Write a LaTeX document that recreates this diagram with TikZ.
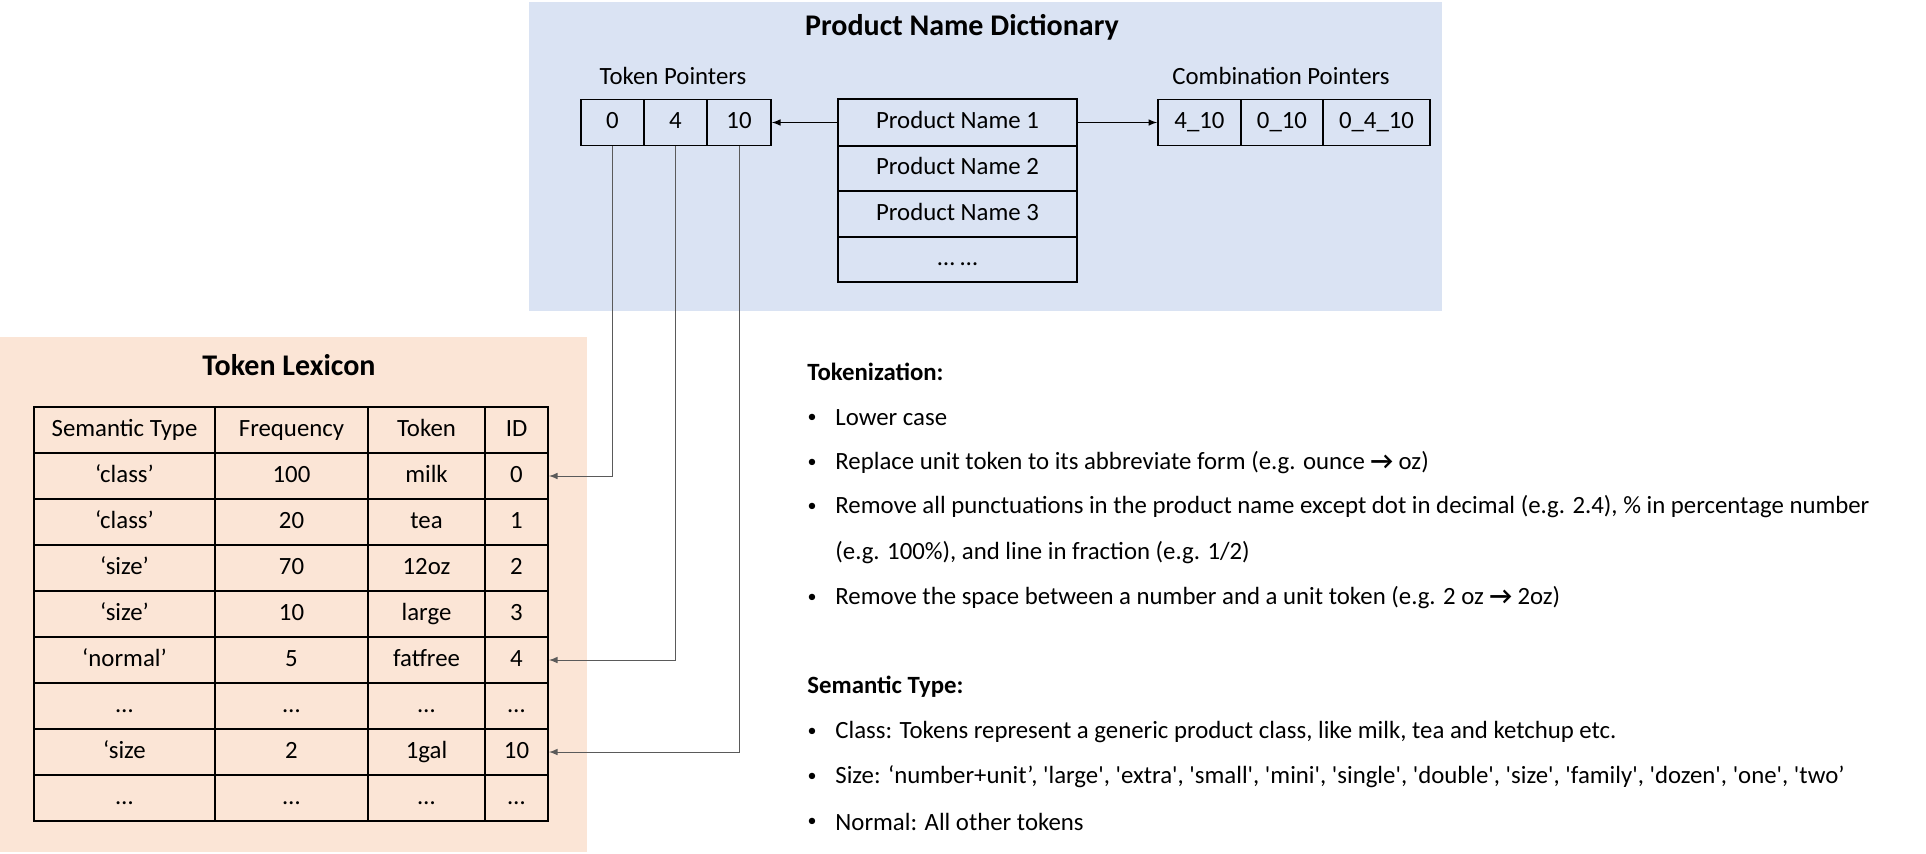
\documentclass[tikz,border=0pt]{standalone}
\usepackage{fontspec}
\setmainfont{Carlito}
\usepackage{tikz}
\usetikzlibrary{shapes,arrows,positioning,calc}
\definecolor{dictblue}{RGB}{218,227,243}
\definecolor{lexorange}{RGB}{251,229,214}
\definecolor{linkgray}{RGB}{90,90,90}

\begin{document}
\begin{tikzpicture}[x=0.5pt, y=-0.5pt,
    every node/.style={font=\fontsize{12.4pt}{15pt}\selectfont},
    cell/.style={draw, line width=0.9pt, inner sep=0pt, minimum height=23pt,
        text height=0.82em, text depth=0.18em},
    title/.style={font=\fontsize{15pt}{18pt}\selectfont\bfseries},
    bullet/.style={font=\fontsize{9pt}{9pt}\selectfont, inner sep=0pt},
    link/.style={-latex, linkgray, line width=0.5pt}]
    \useasboundingbox (0,0) rectangle (1926,853);

    % background panels
    \fill[dictblue] (529,2) rectangle (1442,311);
    \fill[lexorange] (0,337) rectangle (587,852);
    \node[title] (dicttitle) at (962,27) {Product Name Dictionary};
    \node[title] (lextitle) at (289,365) {Token Lexicon};

    % product name dictionary
    \node (tplabel) at (673,76) {Token Pointers};
    \node[cell, minimum width=31.5pt] (tp0) at (612.5,122.5) {0};
    \node[cell, minimum width=31.5pt] (tp4) at (675.5,122.5) {4};
    \node[cell, minimum width=32pt] (tp10) at (739,122.5) {10};

    \node[cell, minimum width=119.5pt, minimum height=23.5pt] (pn1) at (957.5,122.5) {Product Name 1};
    \node[cell, minimum width=119.5pt, minimum height=22.5pt] (pn2) at (957.5,168.5) {Product Name 2};
    \node[cell, minimum width=119.5pt, minimum height=22.5pt] (pn3) at (957.5,214) {Product Name 3};
    \node[cell, minimum width=119.5pt, minimum height=22.5pt] (pn4) at (957.5,259.5) {\dots\ \dots};

    \node (cplabel) at (1281,76) {Combination Pointers};
    \node[cell, minimum width=41.5pt] (cp1) at (1199.5,122.5) {4\_10};
    \node[cell, minimum width=41pt] (cp2) at (1282,122.5) {0\_10};
    \node[cell, minimum width=53.5pt] (cp3) at (1376.5,122.5) {0\_4\_10};

    \draw[link, black] (pn1.west) -- (tp10.east);
    \draw[link, black] (pn1.east) -- (cp1.west);

    % token lexicon table
    \foreach \r/\st/\fr/\tk/\id in {0/Semantic Type/Frequency/Token/ID,
        1/‘class’/100/milk/0, 2/‘class’/20/tea/1, 3/‘size’/70/12oz/2,
        4/‘size’/10/large/3, 5/‘normal’/5/fatfree/4, 6/…/…/…/…,
        7/‘size/2/1gal/10, 8/…/…/…/…} {
        \node[cell, minimum width=90.5pt] (st\r) at (124.5,430+46*\r) {\st};
        \node[cell, minimum width=76.5pt] (fr\r) at (291.5,430+46*\r) {\fr};
        \node[cell, minimum width=58.5pt] (tk\r) at (426.5,430+46*\r) {\tk};
        \node[cell, minimum width=31.5pt] (id\r) at (516.5,430+46*\r) {\id};
    }

    \draw[link] (tp0.south) |- (id1.east);
    \draw[link] (tp4.south) |- (id5.east);
    \draw[link] (tp10.south) |- (id7.east);

    % notes
    \node[anchor=west, inner sep=0pt, font=\fontsize{12.4pt}{15pt}\selectfont\bfseries] (tokhead) at (807,372) {Tokenization:};
    \foreach \n/\y/\txt in {1/418/Lower case,
        2/463/Replace unit token to its abbreviate form (e.g. ounce \textbf{→} oz),
        3/507/{Remove all punctuations in the product name except dot in decimal (e.g. 2.4), \% in percentage number},
        5/598/Remove the space between a number and a unit token (e.g. 2 oz \textbf{→} 2oz)} {
        \node[bullet] (tokdot\n) at (812,\y) {\textbullet};
        \node[anchor=west, inner sep=0pt] (tok\n) at (835,\y) {\txt};
    }
    \node[anchor=west, inner sep=0pt] (tok4) at (835,553) {(e.g. 100\%), and line in fraction (e.g. 1/2)};

    \node[anchor=west, inner sep=0pt, font=\fontsize{12.4pt}{15pt}\selectfont\bfseries] (semhead) at (807,687) {Semantic Type:};
    \foreach \n/\y/\txt in {1/732/{Class: Tokens represent a generic product class, like milk, tea and ketchup etc.},
        2/777/{Size: ‘number+unit’, \textquotesingle large\textquotesingle, \textquotesingle extra\textquotesingle, \textquotesingle small\textquotesingle, \textquotesingle mini\textquotesingle, \textquotesingle single\textquotesingle, \textquotesingle double\textquotesingle, \textquotesingle size\textquotesingle, \textquotesingle family\textquotesingle, \textquotesingle dozen\textquotesingle, \textquotesingle one\textquotesingle, \textquotesingle two’},
        3/822/Normal: All other tokens} {
        \node[bullet] (semdot\n) at (812,\y) {\textbullet};
        \node[anchor=west, inner sep=0pt] (sem\n) at (835,\y) {\txt};
    }
\end{tikzpicture}
\end{document}
